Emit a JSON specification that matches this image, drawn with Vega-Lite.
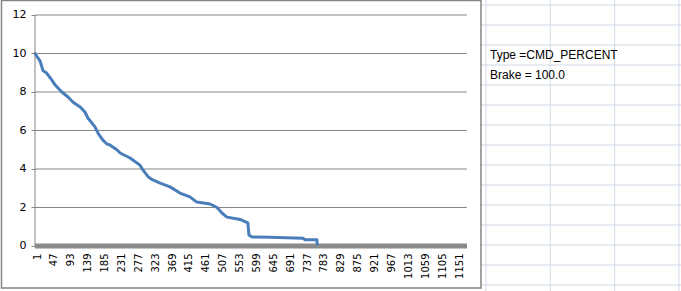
{
  "$schema": "https://vega.github.io/schema/vega-lite/v6.json",
  "width": 681,
  "height": 291,
  "autosize": "none",
  "padding": 0,
  "background": "white",
  "config": {"view": {"stroke": null}},
  "datasets": {
    "series": [
      {"n": 1, "v": 10.0}, {"n": 8, "v": 9.8}, {"n": 15, "v": 9.6}, {"n": 23, "v": 9.1},
      {"n": 32, "v": 9.0}, {"n": 47, "v": 8.62}, {"n": 56, "v": 8.36}, {"n": 74, "v": 8.0},
      {"n": 91, "v": 7.74}, {"n": 104, "v": 7.48}, {"n": 124, "v": 7.22}, {"n": 137, "v": 6.96},
      {"n": 145, "v": 6.65}, {"n": 164, "v": 6.2}, {"n": 173, "v": 5.85}, {"n": 186, "v": 5.5},
      {"n": 197, "v": 5.3}, {"n": 205, "v": 5.25}, {"n": 224, "v": 5.0}, {"n": 233, "v": 4.83},
      {"n": 260, "v": 4.57}, {"n": 287, "v": 4.2}, {"n": 295, "v": 3.95}, {"n": 309, "v": 3.6},
      {"n": 322, "v": 3.43}, {"n": 342, "v": 3.27}, {"n": 369, "v": 3.07}, {"n": 396, "v": 2.75},
      {"n": 423, "v": 2.55}, {"n": 442, "v": 2.28}, {"n": 478, "v": 2.18}, {"n": 497, "v": 2.0},
      {"n": 511, "v": 1.7}, {"n": 524, "v": 1.5}, {"n": 560, "v": 1.38}, {"n": 573, "v": 1.27},
      {"n": 581, "v": 1.2}, {"n": 584, "v": 0.57}, {"n": 592, "v": 0.47}, {"n": 641, "v": 0.45},
      {"n": 731, "v": 0.4}, {"n": 737, "v": 0.32}, {"n": 769, "v": 0.32}, {"n": 770, "v": 0.1}
    ],
    "grid": [{"g": 0}, {"g": 2}, {"g": 4}, {"g": 6}, {"g": 8}, {"g": 10}, {"g": 12}],
    "sheetCols": [{"k": 0}, {"k": 1}, {"k": 2}, {"k": 3}],
    "sheetRows": [{"r": 0}, {"r": 1}, {"r": 2}, {"r": 3}, {"r": 4}, {"r": 5}, {"r": 6}, {"r": 7}, {"r": 8}, {"r": 9}, {"r": 10}, {"r": 11}, {"r": 12}, {"r": 13}, {"r": 14}],
    "cells": [
      {"col": 0, "row": 2, "text": "Type =CMD_PERCENT"},
      {"col": 0, "row": 3, "text": "Brake = 100.0"}
    ]
  },
  "resolve": {"scale": {"x": "independent", "y": "independent"}, "axis": {"x": "independent", "y": "independent"}},
  "layer": [
    {
      "data": {"name": "sheetCols"},
      "mark": {"type": "rule", "color": "#d0d7e5", "strokeWidth": 1},
      "encoding": {
        "x": {"field": "k", "type": "quantitative", "axis": null, "scale": {"domain": [-7.558, 3.033], "nice": false, "zero": false}}
      }
    },
    {
      "data": {"name": "sheetRows"},
      "mark": {"type": "rule", "color": "#d0d7e5", "strokeWidth": 1},
      "encoding": {
        "x": {"datum": -0.078, "type": "quantitative", "axis": null, "scale": {"domain": [-7.558, 3.033], "nice": false, "zero": false}},
        "x2": {"datum": 3.033},
        "y": {"field": "r", "type": "quantitative", "axis": null, "scale": {"domain": [-0.25, 14.3], "reverse": true, "nice": false, "zero": false}}
      }
    },
    {
      "data": {"values": [{}]},
      "mark": {"type": "rect", "fill": null, "stroke": "#868686", "strokeWidth": 1.5},
      "encoding": {
        "x": {"datum": -7.535, "type": "quantitative", "axis": null, "scale": {"domain": [-7.558, 3.033], "nice": false, "zero": false}},
        "x2": {"datum": -0.078},
        "y": {"datum": -0.225, "type": "quantitative", "axis": null, "scale": {"domain": [-0.25, 14.3], "reverse": true, "nice": false, "zero": false}},
        "y2": {"datum": 14.15}
      }
    },
    {
      "data": {"name": "cells"},
      "mark": {"type": "text", "align": "left", "baseline": "top", "dx": 4, "dy": 5, "font": "Liberation Sans", "fontSize": 12, "color": "#000000"},
      "encoding": {
        "x": {"field": "col", "type": "quantitative", "axis": null, "scale": {"domain": [-7.558, 3.033], "nice": false, "zero": false}},
        "y": {"field": "row", "type": "quantitative", "axis": null, "scale": {"domain": [-0.25, 14.3], "reverse": true, "nice": false, "zero": false}},
        "text": {"field": "text"}
      }
    },
    {
      "data": {"name": "grid"},
      "mark": {"type": "rule", "color": "#868686", "strokeWidth": 1},
      "encoding": {
        "x": {"datum": 1, "type": "quantitative", "scale": {"domain": [-94.37, 1761.2], "nice": false, "zero": false}, "axis": null},
        "x2": {"datum": 1178},
        "y": {"field": "g", "type": "quantitative", "scale": {"domain": [-2.338, 12.779], "nice": false, "zero": false}, "axis": null}
      }
    },
    {
      "data": {"values": [{}]},
      "mark": {"type": "rule", "color": "#868686", "strokeWidth": 1},
      "encoding": {
        "x": {"datum": 1, "type": "quantitative", "scale": {"domain": [-94.37, 1761.2], "nice": false, "zero": false}, "axis": null},
        "y": {"datum": 0, "type": "quantitative", "scale": {"domain": [-2.338, 12.779], "nice": false, "zero": false}, "axis": null},
        "y2": {"datum": 12}
      }
    },
    {
      "data": {"values": [{}]},
      "mark": {"type": "rule", "color": "#8a8a8a", "strokeWidth": 5},
      "encoding": {
        "x": {"datum": 1, "type": "quantitative", "scale": {"domain": [-94.37, 1761.2], "nice": false, "zero": false}, "axis": null},
        "x2": {"datum": 1178},
        "y": {"datum": 0, "type": "quantitative", "scale": {"domain": [-2.338, 12.779], "nice": false, "zero": false}, "axis": null}
      }
    },
    {
      "data": {"name": "series"},
      "mark": {"type": "line", "color": "#4a7ebb", "strokeWidth": 3, "strokeJoin": "round", "strokeCap": "round"},
      "encoding": {
        "x": {
          "field": "n", "type": "quantitative",
          "scale": {"domain": [-94.37, 1761.2], "nice": false, "zero": false},
          "axis": {
            "orient": "bottom", "offset": -45, "values": [1, 47, 93, 139, 185, 231, 277, 323, 369, 415, 461, 507, 553, 599, 645, 691, 737, 783, 829, 875, 921, 967, 1013, 1059, 1105, 1151],
            "format": "d",
            "domain": false, "ticks": false, "tickSize": 0, "grid": false, "title": null,
            "labelAngle": 270, "labelAlign": "right", "labelBaseline": "middle", "labelPadding": 7,
            "labelFont": "DejaVu Sans", "labelFontSize": 10, "labelColor": "#000000",
            "labelOverlap": false, "labelFlush": false, "labelOffset": 2, "zindex": 1
          }
        },
        "y": {
          "field": "v", "type": "quantitative",
          "scale": {"domain": [-2.338, 12.779], "nice": false, "zero": false},
          "axis": {
            "orient": "left", "offset": -35, "values": [0, 2, 4, 6, 8, 10, 12],
            "format": "d",
            "domain": false, "ticks": true, "tickSize": 4, "tickColor": "#868686", "grid": false, "title": null,
            "labelPadding": 5, "labelFont": "DejaVu Sans", "labelFontSize": 11, "labelColor": "#000000",
            "labelOverlap": false, "labelFlush": false, "zindex": 1
          }
        }
      }
    }
  ]
}
